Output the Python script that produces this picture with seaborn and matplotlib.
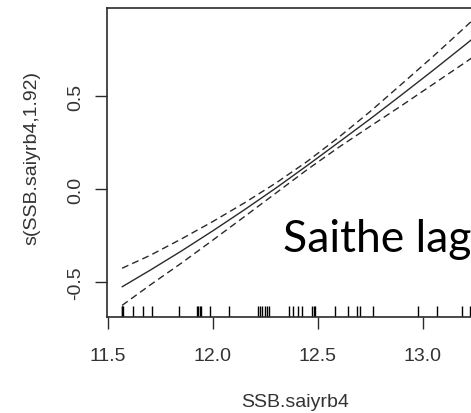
import numpy as np
import pandas as pd
import seaborn as sns
import matplotlib.pyplot as plt

# smooth term values
ssb = [11.567, 11.7, 11.85, 12.0, 12.15, 12.3, 12.45, 12.6, 12.75, 12.9, 13.05, 13.2, 13.35]
fit = [-0.527, -0.438, -0.334, -0.225, -0.112, 0.005, 0.127, 0.252, 0.378, 0.508, 0.640, 0.775, 0.912]
se2 = [0.100, 0.080, 0.065, 0.050, 0.037, 0.027, 0.022, 0.027, 0.040, 0.058, 0.075, 0.095, 0.115]

# rug of observed SSB values
rug = [11.565, 11.568, 11.572, 11.621, 11.668, 11.710, 11.836, 11.924, 11.930, 11.936,
       11.942, 11.988, 12.074, 12.216, 12.224, 12.234, 12.246, 12.255, 12.268, 12.360,
       12.383, 12.407, 12.426, 12.472, 12.480, 12.488, 12.583, 12.645, 12.688, 12.700,
       12.764, 12.979, 13.069, 13.188, 13.226]

xticks = [11.5, 12.0, 12.5, 13.0]
yticks = [-0.5, 0.0, 0.5]

df = pd.DataFrame({'ssb': ssb, 'fit': fit, 'se2': se2})
df['upper'] = df['fit'] + df['se2']
df['lower'] = df['fit'] - df['se2']

sns.set_style('white')
plt.rcParams['font.family'] = ['Liberation Sans', 'DejaVu Sans']

fig = plt.figure(figsize=(4.71, 4.14), dpi=100)
ax = fig.add_axes([0.228, 0.2326, 0.808, 0.745])

ink = '#2a2a2a'
sns.lineplot(data=df, x='ssb', y='fit', ax=ax, color=ink, lw=1.0)
sns.lineplot(data=df, x='ssb', y='upper', ax=ax, color=ink, lw=1.0, linestyle=(0, (5, 3)))
sns.lineplot(data=df, x='ssb', y='lower', ax=ax, color=ink, lw=1.0, linestyle=(0, (5, 3)))
sns.rugplot(x=rug, ax=ax, height=0.035, color='black', lw=1.2)

ax.set_xlim(11.497, 13.31)
ax.set_ylim(-0.688, 0.973)
ax.set_xticks(xticks)
ax.set_xticklabels([f'{v:.1f}' for v in xticks])
ax.set_yticks(yticks)
ax.set_yticklabels([f'{v:.1f}' for v in yticks], rotation=90, va='center')

for s in ax.spines.values():
    s.set_color(ink)
    s.set_linewidth(1.2)

ax.tick_params(axis='both', direction='out', length=8.5, width=1.0, color=ink,
               labelsize=14, labelcolor='#333333', bottom=True, left=True)
ax.tick_params(axis='x', pad=13)
ax.tick_params(axis='y', pad=8)

ax.set_xlabel('SSB.saiyrb4', fontsize=14, color='#333333', va='center')
ax.set_ylabel('s(SSB.saiyrb4,1.92)', fontsize=14, color='#333333', va='center')
ax.xaxis.set_label_coords(0.493, -0.275)
ax.yaxis.set_label_coords(-0.198, 0.518)

fig.text(283 / 471, (414 - 252) / 414, 'Saithe lag', fontsize=32, family=['Lato', 'DejaVu Sans'],
         color='black', ha='left', va='baseline')

fig.savefig('out.png', dpi=100)
